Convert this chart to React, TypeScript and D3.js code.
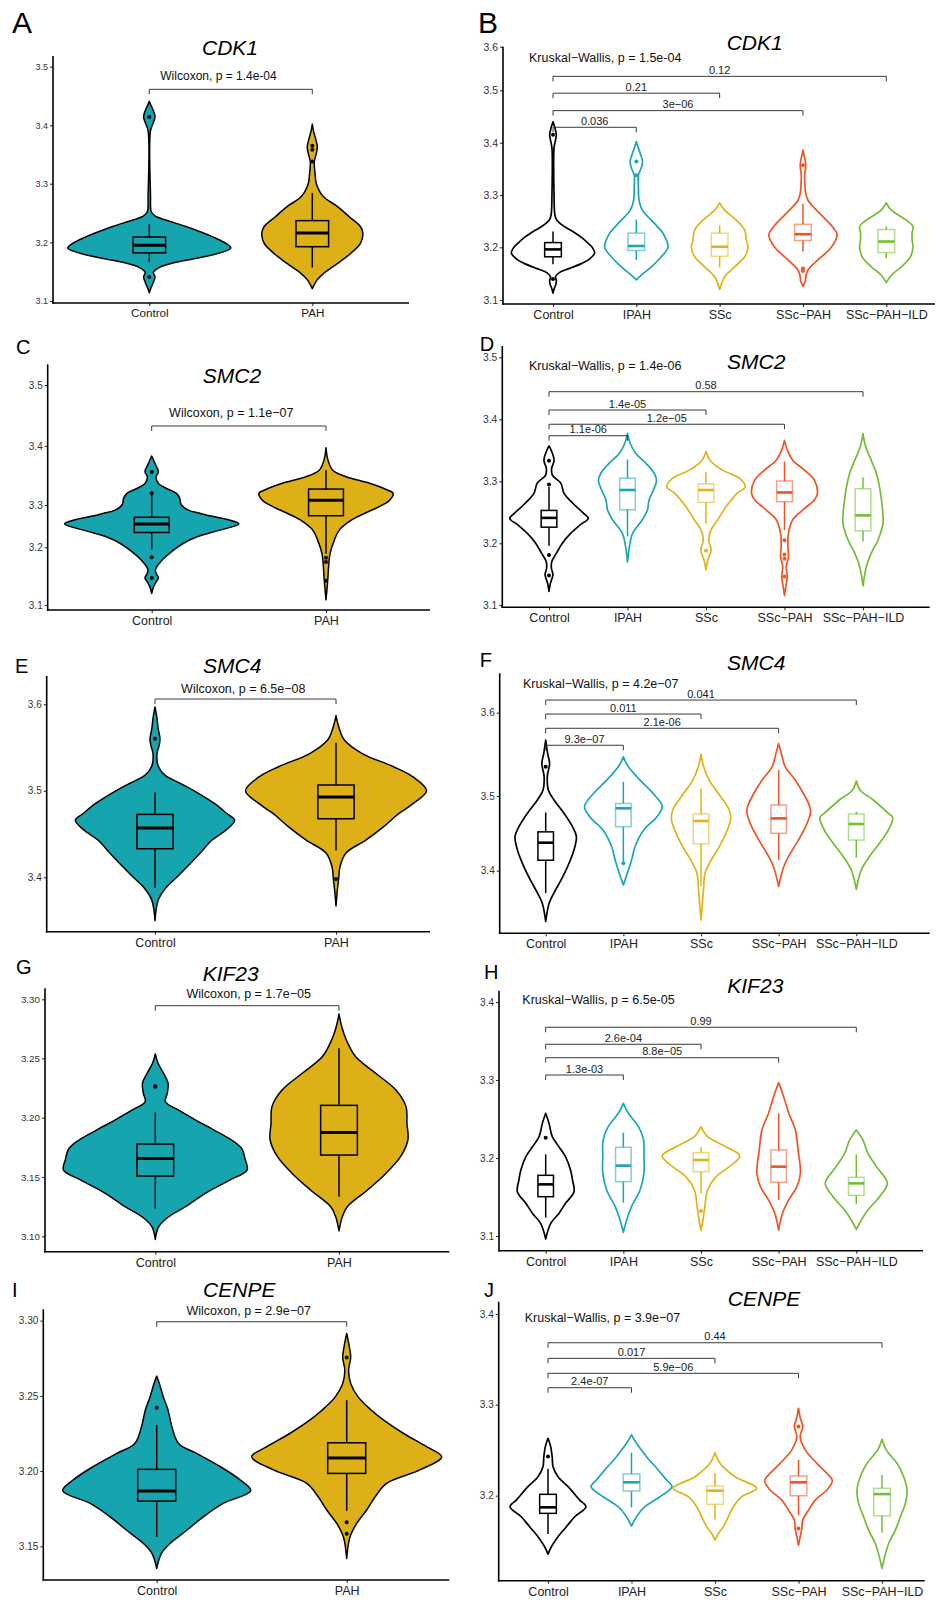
import * as d3 from 'd3';
import React, { useEffect, useRef } from 'react';

type Profile = [number, number][];
type Box = [number, number, number, number, number];
interface Bracket { to: number; y: number; label: string; }

const FONT = "'Liberation Sans', Arial, Helvetica, sans-serif";

const twoGroups = ['Control', 'PAH'];
const fiveGroups = ['Control', 'IPAH', 'SSc', 'SSc\u2212PAH', 'SSc\u2212PAH\u2212ILD'];
const twoFill = ['#16a4af', '#dcb016'];
const fiveColor = ['#000000', '#1ba6b5', '#e1b21a', '#ee5425', '#73bd33'];

const genes = ['CDK1', 'SMC2', 'SMC4', 'KIF23', 'CENPE'];

const wilcoxLabels = [
  'Wilcoxon, p = 1.4e-04',
  'Wilcoxon, p = 1.1e\u221207',
  'Wilcoxon, p = 6.5e\u221208',
  'Wilcoxon, p = 1.7e\u221205',
  'Wilcoxon, p = 2.9e\u221207',
];
const kruskalLabels = [
  'Kruskal\u2212Wallis, p = 1.5e-04',
  'Kruskal\u2212Wallis, p = 1.4e-06',
  'Kruskal\u2212Wallis, p = 4.2e\u221207',
  'Kruskal\u2212Wallis, p = 6.5e-05',
  'Kruskal\u2212Wallis, p = 3.9e\u221207',
];

// ---- tick values per panel
const ticksA = [3.1, 3.2, 3.3, 3.4, 3.5];
const ticksB = [3.1, 3.2, 3.3, 3.4, 3.5, 3.6];
const ticksC = [3.1, 3.2, 3.3, 3.4, 3.5];
const ticksD = [3.1, 3.2, 3.3, 3.4, 3.5];
const ticksE = [3.4, 3.5, 3.6];
const ticksF = [3.4, 3.5, 3.6];
const ticksG = [3.1, 3.15, 3.2, 3.25, 3.3];
const ticksH = [3.1, 3.2, 3.3, 3.4];
const ticksI = [3.15, 3.2, 3.25, 3.3];
const ticksJ = [3.2, 3.3, 3.4];
const tickLabelsG = ['3.10', '3.15', '3.20', '3.25', '3.30'];
const tickLabelsI = ['3.15', '3.20', '3.25', '3.30'];

// ---- CDK1
const violinsA: Profile[] = [
  [[3.114, 0], [3.122, 0.02], [3.132, 0.05], [3.141, 0.07], [3.149, 0.05], [3.157, 0.12], [3.165, 0.3], [3.172, 0.55], [3.181, 0.84], [3.19, 1.0], [3.198, 0.94], [3.208, 0.8], [3.215, 0.68], [3.227, 0.45], [3.238, 0.2], [3.245, 0.07], [3.252, 0.025], [3.28, 0.015], [3.39, 0.014], [3.403, 0.045], [3.414, 0.07], [3.425, 0.05], [3.434, 0.02], [3.441, 0]],
  [[3.121, 0], [3.136, 0.06], [3.147, 0.14], [3.164, 0.31], [3.181, 0.47], [3.198, 0.59], [3.216, 0.62], [3.227, 0.59], [3.244, 0.45], [3.261, 0.31], [3.278, 0.135], [3.3, 0.05], [3.318, 0.033], [3.338, 0.025], [3.352, 0.05], [3.363, 0.062], [3.375, 0.045], [3.39, 0.015], [3.402, 0]],
];
const boxesA: Box[] = [[3.167, 3.182, 3.195, 3.209, 3.231], [3.157, 3.1925, 3.216, 3.237, 3.284]];
const outliersA = [[3.414, 3.141], [3.365, 3.358, 3.338]];
const bracketA = 3.4614;

const violinsB: Profile[] = [
  [[3.113, 0], [3.122, 0.03], [3.13, 0.07], [3.137, 0.08], [3.144, 0.06], [3.152, 0.15], [3.16, 0.4], [3.169, 0.68], [3.178, 0.88], [3.189, 1.0], [3.2, 0.94], [3.208, 0.84], [3.218, 0.7], [3.227, 0.54], [3.237, 0.33], [3.246, 0.16], [3.255, 0.07], [3.265, 0.04], [3.3, 0.025], [3.39, 0.025], [3.405, 0.06], [3.415, 0.08], [3.427, 0.05], [3.44, 0]],
  [[3.138, 0], [3.147, 0.12], [3.163, 0.36], [3.182, 0.6], [3.2, 0.76], [3.214, 0.72], [3.227, 0.64], [3.24, 0.5], [3.252, 0.36], [3.265, 0.2], [3.275, 0.12], [3.29, 0.065], [3.316, 0.05], [3.338, 0.05], [3.352, 0.12], [3.364, 0.15], [3.378, 0.1], [3.392, 0.04], [3.402, 0]],
  [[3.12, 0], [3.132, 0.05], [3.144, 0.12], [3.163, 0.36], [3.182, 0.6], [3.2, 0.68], [3.214, 0.64], [3.233, 0.6], [3.252, 0.4], [3.271, 0.12], [3.285, 0]],
  [[3.126, 0], [3.137, 0.06], [3.144, 0.065], [3.157, 0.12], [3.176, 0.36], [3.2, 0.68], [3.224, 0.82], [3.238, 0.72], [3.252, 0.56], [3.265, 0.4], [3.278, 0.24], [3.29, 0.12], [3.303, 0.065], [3.316, 0.05], [3.338, 0.04], [3.35, 0.06], [3.357, 0.065], [3.367, 0.05], [3.378, 0.02], [3.386, 0]],
  [[3.133, 0], [3.147, 0.12], [3.163, 0.36], [3.182, 0.58], [3.2, 0.64], [3.214, 0.62], [3.228, 0.62], [3.24, 0.64], [3.252, 0.48], [3.271, 0.12], [3.285, 0]],
];
const boxesB: Box[] = [
  [3.168, 3.182, 3.196, 3.209, 3.23], [3.176, 3.194, 3.2025, 3.227, 3.253], [3.162, 3.183, 3.201, 3.227, 3.242],
  [3.192, 3.213, 3.225, 3.244, 3.283], [3.179, 3.19, 3.211, 3.234, 3.24],
];
const outliersB = [[3.415, 3.14], [3.364, 3.338], [], [3.357, 3.16, 3.155], []];
const bracketsB: Bracket[] = [
  { to: 4, y: 3.532, label: '0.12' },
  { to: 2, y: 3.4945, label: '0.21' },
  { to: 3, y: 3.4612, label: '3e\u221206' },
  { to: 1, y: 3.4294, label: '0.036' },
];

// ---- SMC2
const violinsC: Profile[] = [
  [[3.12, 0], [3.131, 0.02], [3.14, 0.05], [3.147, 0.077], [3.155, 0.05], [3.162, 0.045], [3.177, 0.115], [3.195, 0.25], [3.209, 0.36], [3.225, 0.52], [3.24, 0.77], [3.255, 1.0], [3.264, 0.9], [3.272, 0.72], [3.28, 0.56], [3.288, 0.42], [3.3, 0.34], [3.312, 0.32], [3.32, 0.28], [3.328, 0.17], [3.3365, 0.077], [3.348, 0.05], [3.356, 0.077], [3.368, 0.045], [3.383, 0]],
  [[3.109, 0], [3.143, 0.02], [3.166, 0.03], [3.189, 0.046], [3.217, 0.096], [3.24, 0.15], [3.264, 0.29], [3.28, 0.44], [3.296, 0.61], [3.308, 0.73], [3.32, 0.77], [3.325, 0.71], [3.337, 0.5], [3.348, 0.23], [3.359, 0.077], [3.376, 0.023], [3.397, 0]],
];
const boxesC: Box[] = [[3.196, 3.235, 3.255, 3.271, 3.318], [3.189, 3.2746, 3.308, 3.327, 3.359]];
const outliersC = [[3.356, 3.32, 3.1826, 3.147], [3.182, 3.1744, 3.142]];
const bracketC = 3.4328;

const violinsD: Profile[] = [
  [[3.122, 0], [3.135, 0.035], [3.149, 0.1], [3.16, 0.06], [3.17, 0.07], [3.184, 0.19], [3.2, 0.34], [3.216, 0.55], [3.23, 0.8], [3.24, 1.0], [3.248, 0.89], [3.265, 0.6], [3.281, 0.38], [3.297, 0.3], [3.31, 0.085], [3.321, 0.068], [3.334, 0.13], [3.348, 0.068], [3.357, 0]],
  [[3.17, 0], [3.195, 0.05], [3.216, 0.13], [3.238, 0.38], [3.254, 0.51], [3.27, 0.55], [3.286, 0.66], [3.301, 0.74], [3.313, 0.68], [3.329, 0.47], [3.345, 0.21], [3.361, 0.07], [3.377, 0]],
  [[3.157, 0], [3.173, 0.05], [3.189, 0.13], [3.205, 0.068], [3.222, 0.13], [3.238, 0.3], [3.259, 0.51], [3.281, 0.8], [3.291, 1.0], [3.305, 0.85], [3.318, 0.42], [3.334, 0.1], [3.348, 0]],
  [[3.115, 0], [3.13, 0.035], [3.146, 0.07], [3.162, 0.045], [3.178, 0.1], [3.195, 0.085], [3.216, 0.1], [3.238, 0.21], [3.254, 0.47], [3.27, 0.76], [3.281, 0.84], [3.302, 0.76], [3.318, 0.51], [3.334, 0.21], [3.351, 0.068], [3.366, 0]],
  [[3.131, 0], [3.162, 0.085], [3.184, 0.21], [3.205, 0.38], [3.232, 0.51], [3.259, 0.49], [3.291, 0.42], [3.313, 0.34], [3.334, 0.21], [3.356, 0.068], [3.377, 0]],
];
const boxesD: Box[] = [
  [3.196, 3.226, 3.241, 3.253, 3.291], [3.211, 3.254, 3.286, 3.305, 3.335], [3.232, 3.266, 3.286, 3.296, 3.315],
  [3.2215, 3.267, 3.282, 3.3005, 3.332], [3.203, 3.22, 3.245, 3.288, 3.306],
];
const outliersD = [[3.333, 3.295, 3.181, 3.148], [], [3.188], [3.205, 3.182, 3.175, 3.146], []];
const bracketsD: Bracket[] = [
  { to: 4, y: 3.4445, label: '0.58' },
  { to: 2, y: 3.415, label: '1.4e-05' },
  { to: 3, y: 3.392, label: '1.2e\u221205' },
  { to: 1, y: 3.3735, label: '1.1e-06' },
];

// ---- SMC4
const violinsE: Profile[] = [
  [[3.35, 0], [3.374, 0.037], [3.389, 0.13], [3.4, 0.24], [3.416, 0.39], [3.428, 0.5], [3.443, 0.63], [3.455, 0.79], [3.466, 0.88], [3.474, 0.79], [3.485, 0.66], [3.497, 0.48], [3.508, 0.29], [3.518, 0.11], [3.528, 0.037], [3.543, 0.022], [3.552, 0.045], [3.56, 0.055], [3.572, 0.035], [3.5855, 0.02], [3.597, 0]],
  [[3.367, 0], [3.385, 0.015], [3.399, 0.03], [3.412, 0.044], [3.428, 0.11], [3.443, 0.33], [3.458, 0.52], [3.474, 0.7], [3.485, 0.85], [3.5, 1.0], [3.516, 0.85], [3.528, 0.63], [3.543, 0.29], [3.559, 0.09], [3.574, 0.03], [3.587, 0]],
];
const boxesE: Box[] = [[3.388, 3.433, 3.457, 3.4726, 3.498], [3.431, 3.4676, 3.4927, 3.5066, 3.5555]];
const outliersE = [[3.56], [3.398]];
const bracketE = 3.6061;

const violinsF: Profile[] = [
  [[3.332, 0], [3.356, 0.086], [3.37, 0.21], [3.387, 0.39], [3.405, 0.56], [3.428, 0.73], [3.446, 0.79], [3.459, 0.69], [3.477, 0.47], [3.495, 0.21], [3.507, 0.07], [3.523, 0.04], [3.539, 0.1], [3.551, 0.05], [3.567, 0]],
  [[3.381, 0], [3.396, 0.1], [3.414, 0.21], [3.432, 0.3], [3.454, 0.52], [3.472, 0.86], [3.486, 1.0], [3.503, 0.77], [3.519, 0.43], [3.535, 0.13], [3.547, 0]],
  [[3.334, 0], [3.356, 0.035], [3.379, 0.07], [3.396, 0.1], [3.414, 0.26], [3.432, 0.47], [3.45, 0.64], [3.468, 0.76], [3.481, 0.73], [3.499, 0.51], [3.519, 0.21], [3.535, 0.07], [3.55, 0]],
  [[3.379, 0], [3.405, 0.13], [3.423, 0.3], [3.441, 0.51], [3.463, 0.73], [3.479, 0.82], [3.486, 0.8], [3.503, 0.64], [3.519, 0.43], [3.535, 0.17], [3.551, 0.07], [3.563, 0]],
  [[3.375, 0], [3.401, 0.13], [3.419, 0.34], [3.437, 0.6], [3.454, 0.82], [3.471, 0.94], [3.477, 0.82], [3.495, 0.43], [3.507, 0.1], [3.518, 0]],
];
const boxesF: Box[] = [
  [3.37, 3.414, 3.4375, 3.452, 3.478], [3.412, 3.459, 3.4835, 3.49, 3.517], [3.379, 3.436, 3.4665, 3.476, 3.509],
  [3.414, 3.45, 3.47, 3.488, 3.531], [3.4174, 3.441, 3.4625, 3.476, 3.479],
];
const outliersF = [[3.535], [3.41], [], [], []];
const bracketsF: Bracket[] = [
  { to: 4, y: 3.6152, label: '0.041' },
  { to: 2, y: 3.5984, label: '0.011' },
  { to: 3, y: 3.5813, label: '2.1e-06' },
  { to: 1, y: 3.5609, label: '9.3e\u221207' },
];

// ---- KIF23
const violinsG: Profile[] = [
  [[3.0973, 0], [3.108, 0.036], [3.1165, 0.145], [3.125, 0.33], [3.136, 0.54], [3.147, 0.8], [3.156, 1.0], [3.1643, 0.98], [3.174, 0.94], [3.1812, 0.83], [3.1896, 0.64], [3.198, 0.44], [3.2065, 0.25], [3.2135, 0.11], [3.2205, 0.13], [3.229, 0.14], [3.2374, 0.09], [3.2459, 0.03], [3.2537, 0]],
  [[3.1046, 0], [3.1165, 0.036], [3.1249, 0.09], [3.139, 0.31], [3.153, 0.51], [3.1671, 0.67], [3.1812, 0.75], [3.1952, 0.74], [3.2093, 0.73], [3.2233, 0.62], [3.2374, 0.4], [3.2515, 0.18], [3.2655, 0.08], [3.2768, 0.03], [3.2875, 0]],
];
const boxesG: Box[] = [[3.1235, 3.1508, 3.1657, 3.1778, 3.2045], [3.1333, 3.1685, 3.1876, 3.2104, 3.2585]];
const outliersG = [[3.226, 3.2265], []];
const bracketG = 3.2946;

const violinsH: Profile[] = [
  [[3.0962, 0], [3.1162, 0.13], [3.129, 0.34], [3.1419, 0.51], [3.1568, 0.73], [3.1718, 0.69], [3.1846, 0.64], [3.2017, 0.51], [3.2145, 0.34], [3.2274, 0.17], [3.2444, 0.086], [3.2573, 0]],
  [[3.1047, 0], [3.1205, 0.086], [3.1376, 0.21], [3.159, 0.43], [3.1803, 0.53], [3.2017, 0.53], [3.2231, 0.52], [3.2402, 0.39], [3.2573, 0.13], [3.27, 0]],
  [[3.1068, 0], [3.1205, 0.05], [3.1376, 0.1], [3.159, 0.17], [3.1761, 0.39], [3.1889, 0.73], [3.2026, 1.0], [3.2145, 0.64], [3.2274, 0.17], [3.2402, 0]],
  [[3.1077, 0], [3.1291, 0.1], [3.1462, 0.26], [3.1632, 0.47], [3.1803, 0.56], [3.2103, 0.5], [3.2359, 0.43], [3.2573, 0.26], [3.2786, 0.13], [3.2966, 0]],
  [[3.1085, 0], [3.1205, 0.13], [3.1333, 0.3], [3.1504, 0.6], [3.1675, 0.8], [3.1889, 0.52], [3.206, 0.3], [3.2231, 0.17], [3.2359, 0]],
];
const boxesH: Box[] = [
  [3.1235, 3.1504, 3.1662, 3.1778, 3.2047], [3.1427, 3.1697, 3.1902, 3.2137, 3.2325], [3.1547, 3.1825, 3.1974, 3.2068, 3.2137],
  [3.1462, 3.1688, 3.1889, 3.2103, 3.2573], [3.1406, 3.1521, 3.1675, 3.1752, 3.2047],
];
const outliersH = [[3.226], [], [3.132], [], []];
const bracketsH: Bracket[] = [
  { to: 4, y: 3.3676, label: '0.99' },
  { to: 2, y: 3.3458, label: '2.6e-04' },
  { to: 3, y: 3.3286, label: '8.8e\u221205' },
  { to: 1, y: 3.3064, label: '1.3e-03' },
];

// ---- CENPE
const violinsI: Profile[] = [
  [[3.1353, 0], [3.1453, 0.05], [3.1519, 0.14], [3.1608, 0.32], [3.1696, 0.49], [3.1785, 0.7], [3.1869, 0.99], [3.194, 0.88], [3.2029, 0.67], [3.2117, 0.42], [3.2184, 0.23], [3.2295, 0.16], [3.2405, 0.12], [3.2494, 0.07], [3.2583, 0.028], [3.2632, 0]],
  [[3.1419, 0], [3.1563, 0.035], [3.1652, 0.105], [3.1741, 0.21], [3.1829, 0.3], [3.1918, 0.42], [3.2007, 0.77], [3.2095, 1.0], [3.2162, 0.84], [3.225, 0.6], [3.2339, 0.39], [3.2405, 0.26], [3.2494, 0.12], [3.2583, 0.042], [3.2671, 0.02], [3.2756, 0.042], [3.2826, 0.028], [3.2915, 0]],
];
const boxesI: Box[] = [[3.1563, 3.18, 3.1867, 3.2011, 3.2306], [3.1736, 3.1984, 3.2086, 3.2188, 3.2472]];
const outliersI = [[3.2421], [3.2756, 3.1659, 3.1584]];
const bracketI = 3.2993;

const violinsJ: Profile[] = [
  [[3.1358, 0], [3.1439, 0.08], [3.1549, 0.24], [3.1659, 0.44], [3.1769, 0.64], [3.1879, 0.91], [3.1952, 0.76], [3.2099, 0.48], [3.2209, 0.24], [3.2319, 0.12], [3.2429, 0.1], [3.2539, 0.064], [3.2631, 0]],
  [[3.1666, 0], [3.1769, 0.12], [3.1879, 0.32], [3.1989, 0.68], [3.2099, 0.97], [3.2172, 0.84], [3.2283, 0.64], [3.2429, 0.36], [3.2576, 0.12], [3.2668, 0]],
  [[3.1512, 0], [3.1585, 0.08], [3.1659, 0.2], [3.1769, 0.32], [3.1879, 0.44], [3.1989, 0.64], [3.2081, 1.0], [3.2209, 0.48], [3.2356, 0.12], [3.2473, 0]],
  [[3.1457, 0], [3.1549, 0.04], [3.164, 0.08], [3.1732, 0.1], [3.1842, 0.24], [3.1952, 0.4], [3.2062, 0.68], [3.2165, 0.81], [3.2246, 0.68], [3.2356, 0.44], [3.2503, 0.16], [3.265, 0.04], [3.276, 0.1], [3.286, 0.04], [3.2961, 0]],
  [[3.12, 0], [3.1328, 0.064], [3.1475, 0.16], [3.1622, 0.32], [3.1769, 0.44], [3.1916, 0.56], [3.2062, 0.6], [3.2209, 0.52], [3.2356, 0.36], [3.2503, 0.1], [3.262, 0]],
];
const boxesJ: Box[] = [
  [3.1578, 3.1806, 3.1872, 3.2015, 3.2297], [3.1872, 3.2051, 3.2147, 3.2239, 3.2473], [3.1739, 3.1905, 3.2055, 3.2106, 3.2246],
  [3.1787, 3.2, 3.2147, 3.2217, 3.2393], [3.1593, 3.178, 3.2018, 3.2081, 3.2228],
];
const outliersJ = [[3.243], [], [], [3.276, 3.164], []];
const bracketsJ: Bracket[] = [
  { to: 4, y: 3.3683, label: '0.44' },
  { to: 2, y: 3.3511, label: '0.017' },
  { to: 3, y: 3.3346, label: '5.9e\u221206' },
  { to: 1, y: 3.3187, label: '2.4e-07' },
];

// ---- page layout (pixels)
interface Layout {
  left: number; top: number; bottom: number; right: number;
  tickPx: number[]; cats: [number, number];
  tagX: number; tagY: number; tagSize: number;
  titleX: number; titleY: number; statX: number; statY: number;
  tickSize: number; xSize: number;
}

const layouts: Record<string, Layout> = {
  A: { left: 53, top: 56, bottom: 303, right: 409, tickPx: [301, 242.3, 183.7, 125.3, 66.7], cats: [149.3, 312.3], tagX: 12, tagY: 33, tagSize: 30, titleX: 230, titleY: 55.3, statX: 218.5, statY: 80, tickSize: 9, xSize: 11.7 },
  B: { left: 503, top: 46.7, bottom: 304, right: 935, tickPx: [300, 247.3, 195, 142.7, 90.3, 46.7], cats: [553, 886.3], tagX: 478, tagY: 33, tagSize: 30, titleX: 754.7, titleY: 50, statX: 529, statY: 62, tickSize: 10.5, xSize: 12.5 },
  C: { left: 47.7, top: 364.3, bottom: 610, right: 430, tickPx: [605, 547.3, 505, 446, 385], cats: [151.7, 326], tagX: 16, tagY: 354.3, tagSize: 20, titleX: 232, titleY: 382.7, statX: 231.3, statY: 416.7, tickSize: 10, xSize: 12.5 },
  D: { left: 502.3, top: 346, bottom: 607.3, right: 929.7, tickPx: [605, 543.3, 481.3, 419.3, 357.3], cats: [549, 863], tagX: 479.7, tagY: 350.7, tagSize: 20, titleX: 756.3, titleY: 369.3, statX: 529, statY: 370, tickSize: 10.3, xSize: 12.5 },
  E: { left: 46.7, top: 676, bottom: 931.7, right: 430, tickPx: [877.3, 790.7, 704.3], cats: [155, 336], tagX: 15, tagY: 672.7, tagSize: 20, titleX: 232.3, titleY: 673.3, statX: 243.3, statY: 692.7, tickSize: 10, xSize: 12.5 },
  F: { left: 499.7, top: 673.3, bottom: 933.3, right: 929.7, tickPx: [870.7, 796, 712.7], cats: [545.7, 856.3], tagX: 479.7, tagY: 666.7, tagSize: 20, titleX: 756.3, titleY: 670, statX: 523, statY: 687.7, tickSize: 10, xSize: 12.5 },
  G: { left: 45, top: 988.3, bottom: 1251.7, right: 449.3, tickPx: [1236.3, 1177, 1117.7, 1058.3, 999.3], cats: [155.3, 339], tagX: 16, tagY: 974.3, tagSize: 20, titleX: 230.7, titleY: 980.7, statX: 248.7, statY: 998.3, tickSize: 9.8, xSize: 12.5 },
  H: { left: 499, top: 990.7, bottom: 1250.7, right: 923, tickPx: [1236, 1158, 1080, 1002], cats: [545.7, 856.3], tagX: 484, tagY: 979.3, tagSize: 20, titleX: 755.3, titleY: 993.3, statX: 522.3, statY: 1004.3, tickSize: 10, xSize: 12.5 },
  I: { left: 43.3, top: 1309.3, bottom: 1580, right: 449.3, tickPx: [1546.3, 1471, 1396, 1320.7], cats: [156.7, 346.7], tagX: 12, tagY: 1297.3, tagSize: 20, titleX: 239.3, titleY: 1296.7, statX: 248.7, statY: 1315, tickSize: 10, xSize: 12.5 },
  J: { left: 498.7, top: 1301.7, bottom: 1580.7, right: 924.7, tickPx: [1495.7, 1404.7, 1314], cats: [548, 882], tagX: 484, tagY: 1297.3, tagSize: 20, titleX: 764, titleY: 1306, statX: 524.7, statY: 1321.7, tickSize: 10, xSize: 12.5 },
};

interface Panel {
  tag: string; gene: string; groups: string[]; ticks: number[]; tickLabels: string[];
  violins: Profile[]; boxes: Box[]; outliers: number[][]; stat: string;
  brackets: Bracket[]; layout: Layout;
}

const fmt1 = (t: number[]) => t.map(d => d3.format('.1f')(d));

const panels: Panel[] = [
  { tag: 'A', gene: genes[0], groups: twoGroups, ticks: ticksA, tickLabels: fmt1(ticksA), violins: violinsA, boxes: boxesA, outliers: outliersA, stat: wilcoxLabels[0], brackets: [{ to: 1, y: bracketA, label: '' }], layout: layouts.A },
  { tag: 'B', gene: genes[0], groups: fiveGroups, ticks: ticksB, tickLabels: fmt1(ticksB), violins: violinsB, boxes: boxesB, outliers: outliersB, stat: kruskalLabels[0], brackets: bracketsB, layout: layouts.B },
  { tag: 'C', gene: genes[1], groups: twoGroups, ticks: ticksC, tickLabels: fmt1(ticksC), violins: violinsC, boxes: boxesC, outliers: outliersC, stat: wilcoxLabels[1], brackets: [{ to: 1, y: bracketC, label: '' }], layout: layouts.C },
  { tag: 'D', gene: genes[1], groups: fiveGroups, ticks: ticksD, tickLabels: fmt1(ticksD), violins: violinsD, boxes: boxesD, outliers: outliersD, stat: kruskalLabels[1], brackets: bracketsD, layout: layouts.D },
  { tag: 'E', gene: genes[2], groups: twoGroups, ticks: ticksE, tickLabels: fmt1(ticksE), violins: violinsE, boxes: boxesE, outliers: outliersE, stat: wilcoxLabels[2], brackets: [{ to: 1, y: bracketE, label: '' }], layout: layouts.E },
  { tag: 'F', gene: genes[2], groups: fiveGroups, ticks: ticksF, tickLabels: fmt1(ticksF), violins: violinsF, boxes: boxesF, outliers: outliersF, stat: kruskalLabels[2], brackets: bracketsF, layout: layouts.F },
  { tag: 'G', gene: genes[3], groups: twoGroups, ticks: ticksG, tickLabels: tickLabelsG, violins: violinsG, boxes: boxesG, outliers: outliersG, stat: wilcoxLabels[3], brackets: [{ to: 1, y: bracketG, label: '' }], layout: layouts.G },
  { tag: 'H', gene: genes[3], groups: fiveGroups, ticks: ticksH, tickLabels: fmt1(ticksH), violins: violinsH, boxes: boxesH, outliers: outliersH, stat: kruskalLabels[3], brackets: bracketsH, layout: layouts.H },
  { tag: 'I', gene: genes[4], groups: twoGroups, ticks: ticksI, tickLabels: tickLabelsI, violins: violinsI, boxes: boxesI, outliers: outliersI, stat: wilcoxLabels[4], brackets: [{ to: 1, y: bracketI, label: '' }], layout: layouts.I },
  { tag: 'J', gene: genes[4], groups: fiveGroups, ticks: ticksJ, tickLabels: fmt1(ticksJ), violins: violinsJ, boxes: boxesJ, outliers: outliersJ, stat: kruskalLabels[4], brackets: bracketsJ, layout: layouts.J },
];

function drawPanel(root: d3.Selection<SVGGElement, unknown, null, undefined>, p: Panel) {
  const L = p.layout;
  const five = p.groups.length > 2;
  const g = root.append('g');

  const y = d3.scaleLinear().domain(p.ticks).range(L.tickPx);
  const x = d3.scalePoint<string>().domain(p.groups).range(L.cats);
  const w = d3.scaleLinear().domain([0, 1]).range([0, x.step() / 2]);

  p.groups.forEach((grp, i) => {
    const cx = x(grp)!;
    const col = five ? fiveColor[i] : twoFill[i];
    const area = d3.area<[number, number]>()
      .curve(d3.curveCatmullRom.alpha(0.5))
      .y(d => y(d[0]))
      .x0(d => cx - w(d[1]))
      .x1(d => cx + w(d[1]));

    g.append('path')
      .attr('d', area(p.violins[i]))
      .attr('fill', five ? 'none' : col)
      .attr('stroke', five ? col : '#000')
      .attr('stroke-width', five ? 1.7 : 1.5)
      .attr('stroke-linejoin', 'round');

    const [lo, q1, med, q3, hi] = p.boxes[i];
    const bw = w(0.2);
    const lineCol = five ? col : '#000';
    g.append('line').attr('x1', cx).attr('x2', cx).attr('y1', y(lo)).attr('y2', y(q1))
      .attr('stroke', lineCol).attr('stroke-width', 1.5);
    g.append('line').attr('x1', cx).attr('x2', cx).attr('y1', y(q3)).attr('y2', y(hi))
      .attr('stroke', lineCol).attr('stroke-width', 1.5);
    g.append('rect')
      .attr('x', cx - bw).attr('width', 2 * bw)
      .attr('y', y(q3)).attr('height', y(q1) - y(q3))
      .attr('fill', five ? '#fff' : col)
      .attr('stroke', lineCol)
      .attr('stroke-opacity', five && i > 0 ? 0.55 : 1)
      .attr('stroke-width', 1.5);
    g.append('line').attr('x1', cx - bw).attr('x2', cx + bw).attr('y1', y(med)).attr('y2', y(med))
      .attr('stroke', lineCol).attr('stroke-width', five ? 2.6 : 3);

    g.selectAll(null).data(p.outliers[i]).join('circle')
      .attr('cx', cx).attr('cy', d => y(d)).attr('r', 2)
      .attr('fill', five ? col : '#000');
  });

  // comparison brackets
  const x0 = x(p.groups[0])!;
  p.brackets.forEach(b => {
    const x1 = x(p.groups[b.to])!;
    const by = y(b.y);
    g.append('path')
      .attr('d', `M${x0},${by + 5}V${by}H${x1}V${by + 5}`)
      .attr('fill', 'none').attr('stroke', '#3a3a3a').attr('stroke-width', 1);
    if (b.label) {
      g.append('text').attr('x', (x0 + x1) / 2).attr('y', by - 2.5)
        .attr('text-anchor', 'middle').attr('font-size', 11).attr('fill', '#222')
        .attr('font-family', FONT).text(b.label);
    }
  });

  // axes
  const ya = g.append('g').attr('transform', `translate(${L.left},0)`)
    .call(d3.axisLeft(y).tickValues(p.ticks).tickFormat((_, i) => p.tickLabels[i]).tickSize(3).tickPadding(2));
  ya.select('.domain').remove();
  ya.attr('font-family', FONT).attr('font-size', L.tickSize);
  ya.selectAll('line').attr('stroke', '#333').attr('stroke-width', 1.1);
  ya.selectAll('text').attr('fill', '#333');

  const xa = g.append('g').attr('transform', `translate(0,${L.bottom})`)
    .call(d3.axisBottom(x).tickSize(3).tickPadding(3));
  xa.select('.domain').remove();
  xa.attr('font-family', FONT).attr('font-size', L.xSize);
  xa.selectAll('line').attr('stroke', '#333').attr('stroke-width', 1.1);
  xa.selectAll('text').attr('fill', '#222');

  g.append('line').attr('x1', L.left).attr('x2', L.left).attr('y1', L.top).attr('y2', L.bottom + 0.8)
    .attr('stroke', '#000').attr('stroke-width', 1.6);
  g.append('line').attr('x1', L.left - 0.8).attr('x2', L.right).attr('y1', L.bottom).attr('y2', L.bottom)
    .attr('stroke', '#000').attr('stroke-width', 1.6);

  // texts
  g.append('text').attr('x', L.tagX).attr('y', L.tagY).attr('font-size', L.tagSize)
    .attr('font-family', FONT).attr('fill', '#000').text(p.tag);
  g.append('text').attr('x', L.titleX).attr('y', L.titleY).attr('text-anchor', 'middle')
    .attr('font-size', 21).attr('font-style', 'italic').attr('font-family', FONT).attr('fill', '#000')
    .text(p.gene);
  g.append('text').attr('x', L.statX).attr('y', L.statY)
    .attr('text-anchor', five ? 'start' : 'middle')
    .attr('font-size', L.tagSize > 20 && !five ? 12 : 12.5).attr('font-family', FONT).attr('fill', '#111')
    .text(p.stat);
}

const App: React.FC = () => {
  const svgRef = useRef<SVGSVGElement>(null);

  useEffect(() => {
    if (!svgRef.current) return;
    const svg = d3.select(svgRef.current);
    svg.selectAll('*').remove();
    const root = svg.append('g');
    panels.forEach(p => drawPanel(root, p));
  }, []);

  return (
    <svg
      ref={svgRef}
      width={936}
      height={1603}
      style={{ position: 'absolute', left: 0, top: 0, background: '#fff' }}
    />
  );
};

export default App;
